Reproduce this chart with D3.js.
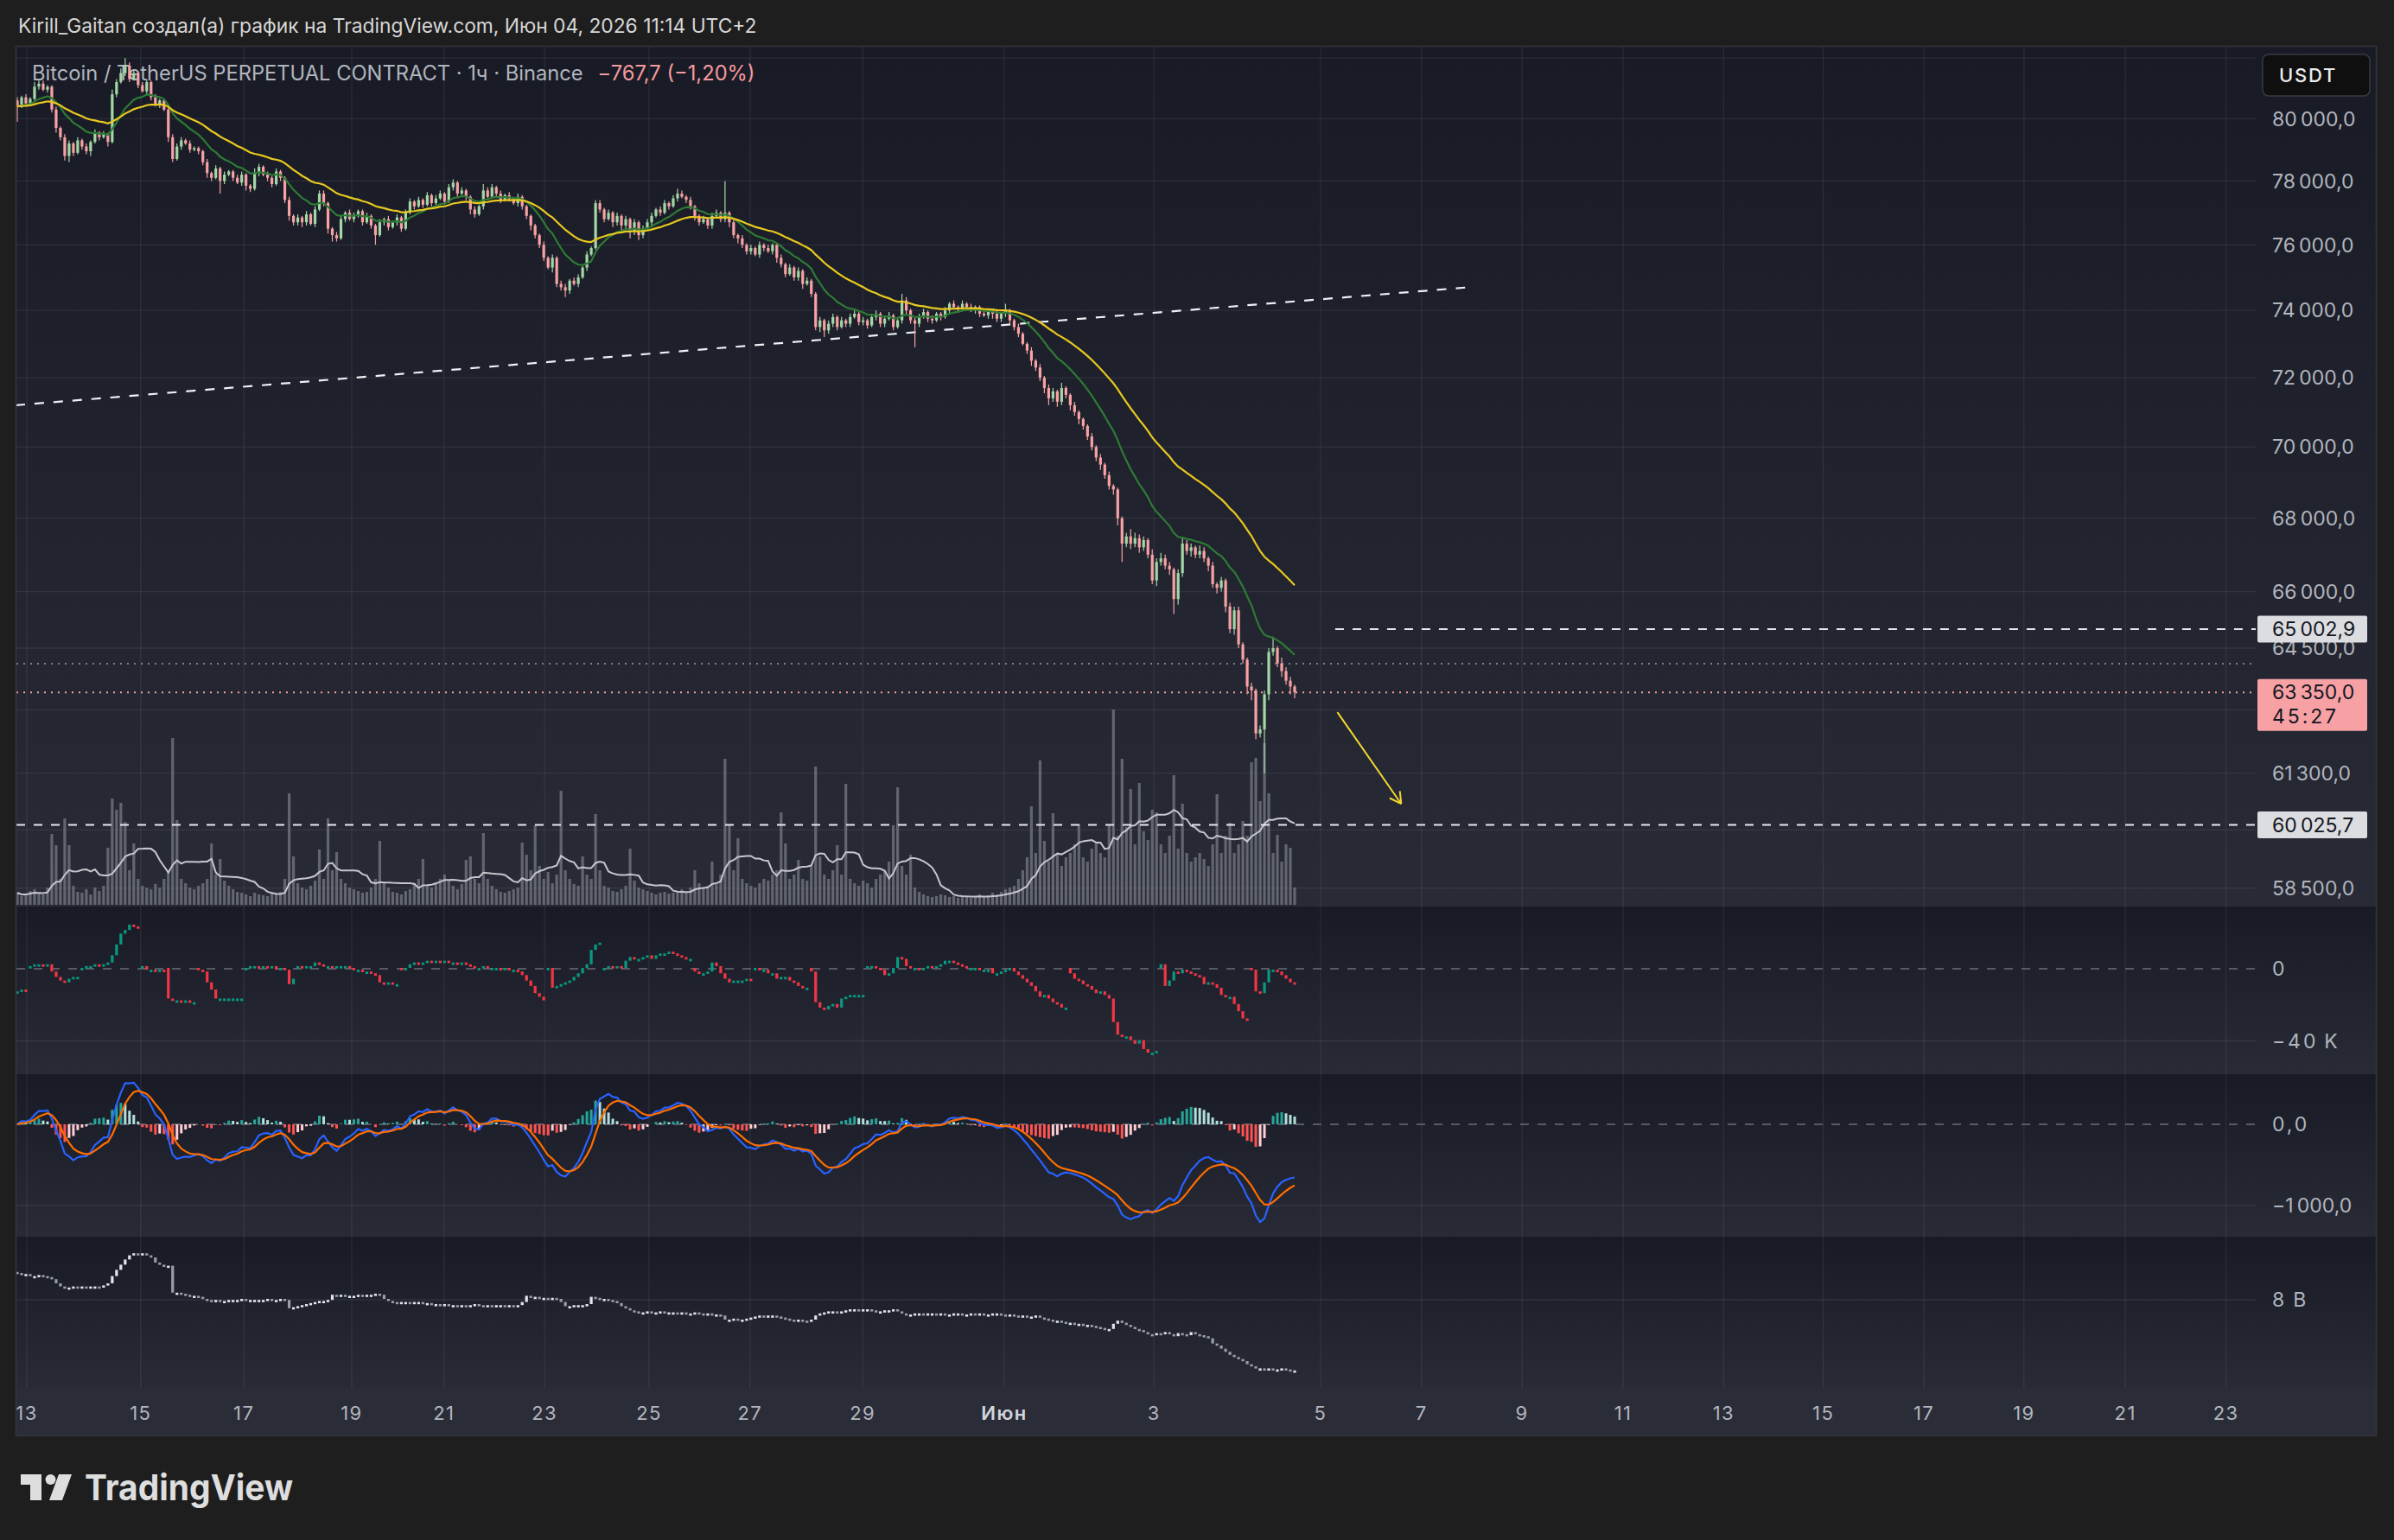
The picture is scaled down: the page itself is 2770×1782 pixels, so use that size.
<!DOCTYPE html>
<html>
<head>
<meta charset="utf-8">
<script src="https://cdn.jsdelivr.net/npm/d3@7"></script>
<style>
  body { margin: 0; background: #1e1e1e; }
  svg { display: block; }
  text { font-family: Inter, "Noto Sans", sans-serif; }
</style>
</head>
<body>
<svg id="chart" width="2770" height="1782"></svg>
<script>
// BTCUSDT.P 1h chart, TradingView dark theme. Prices are samples read off the
// screenshot (one per ~5 px); EMAs, MACD and the volume MA are computed from them,
// with each sample's time taken from the day labels of the time axis.

// ---- data ----
const open0 = 80600;
const close = [
  80400,80700,80500,80650,81050,81150,80950,81050,80300,79700,
  79400,78800,79200,78900,79300,79100,78950,79250,79550,79400,
  79500,79250,80800,81200,81500,81750,81300,81500,81100,80900,
  81200,80700,80450,80600,80300,79400,78700,79100,79300,79200,
  79000,79050,78950,78600,78250,78100,78400,78000,78200,78300,
  78100,77950,78200,77850,77750,78250,78450,78200,78100,77900,
  78300,78100,77400,76900,76700,76850,76700,76950,76650,77100,
  77600,77300,76500,76300,76200,76800,77000,76800,76900,77050,
  76700,76900,76600,76300,76700,76800,76550,76700,76850,76500,
  77000,77350,77200,77400,77250,77550,77300,77450,77600,77350,
  77800,77950,77600,77700,77500,77100,76950,77200,77700,77500,
  77800,77600,77400,77550,77450,77300,77500,77200,76900,76600,
  76300,76000,75600,75300,75600,74800,74700,74600,74900,74800,
  75000,75300,75700,75900,77300,77100,76800,77000,76700,76900,
  76600,76800,76400,76700,76300,76500,76700,76900,77100,77000,
  77300,77200,77450,77600,77500,77400,77200,76900,76700,76800,
  76600,76900,77000,76800,77000,76700,76300,76200,76000,75800,
  75900,75700,76000,75900,75800,76000,75600,75400,75100,75300,
  75000,75200,74800,74900,74500,73500,73700,73400,73600,73800,
  73500,73700,73600,73800,73900,73650,73700,73550,73800,73900,
  73600,73750,73850,73500,73700,74300,74000,73700,73600,73800,
  73950,73750,73700,73900,73800,74000,74200,74100,74050,74200,
  74100,74000,74100,73900,73850,74000,73900,73750,73900,74000,
  73700,73500,73300,73000,72800,72500,72300,72000,71700,71400,
  71600,71300,71700,71500,71200,71000,70800,70600,70300,70000,
  69700,69500,69200,68900,68800,68000,67300,67500,67300,67450,
  67200,67400,67000,66300,66800,66900,66700,66600,65800,66500,
  67300,67100,67200,67000,67100,66900,66700,66200,66100,66300,
  65600,65000,65500,64600,64200,63500,63400,62300,62400,63300,
  64400,64500,64100,63900,63650,63500,63350
];
// upper / lower wick beyond the body, in $50 steps
const wickUp = [
  2,1,2,1,3,2,2,1,1,2, 1,2,2,1,2,1,2,1,2,1, 2,1,3,2,3,5,2,2,1,2, 2,1,2,1,1,1,2,2,2,1,
  2,1,1,1,2,1,2,1,2,1, 1,2,2,1,1,3,2,1,2,1, 2,1,1,2,1,2,1,2,1,2, 2,2,1,1,2,2,1,2,2,1,
  1,2,1,1,2,1,2,1,2,1, 2,2,1,2,1,2,1,2,2,1, 2,2,1,2,1,1,2,1,4,2, 2,1,2,1,2,1,2,1,1,1,
  1,1,2,1,2,1,2,2,1,2, 2,1,2,1,2,2,1,2,1,2, 1,2,1,2,1,2,2,2,1,2, 2,1,2,3,2,1,2,1,1,2,
  1,2,2,1,20,1,2,1,2,1, 2,1,2,1,2,1,1,2,1,2, 1,2,1,2,1,1,2,1,2,2, 1,2,1,2,2,1,2,1,2,2,
  1,2,2,1,2,4,2,1,2,2, 2,1,2,1,1,2,1,2,1,2, 1,2,1,1,2,1,1,2,1,4, 1,1,2,1,1,2,1,2,1,2,
  2,1,3,1,1,2,1,1,1,2, 1,2,1,2,1,1,1,2,4,3, 2,2,1,3,2,3,2,2,1,2, 3,2,2,1,3,2,1,2,1,2,
  1,2,2,2,1,1,2,1,2,2, 2,6,1,3,2,2,1
];
const wickDn = [
  10,1,2,1,1,2,1,2,2,3, 2,3,4,2,1,2,2,3,1,2, 1,3,1,2,1,2,2,1,2,1, 2,2,1,2,1,3,2,1,2,1,
  2,1,2,2,3,2,1,8,2,1, 2,1,2,3,2,1,2,1,2,2, 1,2,2,3,2,2,3,2,1,2, 1,2,3,4,2,1,2,1,2,1,
  2,1,2,6,1,2,2,1,2,2, 1,1,2,1,2,1,2,1,1,2, 1,2,2,1,2,3,2,1,2,1, 1,2,2,1,2,1,2,2,2,3,
  2,2,2,1,3,2,2,4,2,1, 2,1,2,1,1,2,2,1,3,2, 3,2,4,2,3,2,1,2,1,2, 1,2,1,2,1,2,2,3,2,1,
  2,2,1,2,2,3,2,3,2,2, 2,1,2,2,1,2,3,2,2,1, 2,2,3,1,2,2,3,4,2,2, 2,1,2,2,1,2,2,2,1,2,
  2,2,1,2,1,2,2,2,14,2, 1,2,2,1,2,1,2,1,2,1, 2,1,2,2,1,2,3,2,2,2, 2,2,2,1,2,3,2,2,3,4,
  2,3,2,2,3,2,3,2,2,2, 2,3,2,2,3,4,10,2,3,2, 3,2,2,2,3,2,2,3,8,3, 2,2,3,2,2,2,3,2,3,2,
  3,2,3,2,2,4,5,3,2,22, 3,2,2,3,2,4,3
];
const volume = [
  14,10,12,16,18,13,12,20,82,69, 30,100,69,22,15,14,18,12,20,16,
  22,66,123,110,118,96,40,71,30,22, 20,18,24,20,30,40,193,98,30,25,
  20,18,22,25,30,71,35,53,28,22, 18,15,14,12,10,14,12,11,10,13,
  12,15,30,129,56,25,20,18,22,28, 64,30,100,40,61,30,25,20,18,16,
  14,15,20,30,74,25,20,15,14,12, 16,18,25,30,53,22,20,26,30,35,
  28,22,18,24,52,56,30,25,83,30, 22,18,15,14,16,18,20,72,58,40,
  92,45,30,38,25,35,132,40,30,24, 22,56,35,30,105,40,22,20,16,15,
  18,22,65,28,20,18,16,14,12,14, 15,13,14,16,18,15,20,40,25,20,
  22,50,25,35,169,92,40,77,30,25, 22,20,25,30,28,35,40,107,71,30,
  35,52,30,28,45,160,56,35,30,40, 69,35,140,30,25,22,28,25,20,30,
  35,40,50,92,136,45,35,58,20,15, 12,10,9,10,12,11,9,10,8,9,
  10,8,9,12,10,11,14,12,15,18, 20,22,30,40,55,114,60,167,74,50,
  106,60,45,55,60,70,93,55,50,65, 71,60,55,92,226,80,169,90,134,70,
  141,85,75,110,107,70,60,80,150,65, 117,60,50,55,60,53,45,70,128,60,
  80,95,60,70,97,80,165,170,120,187, 129,60,81,50,70,66,20
];
// session-anchored cumulative volume delta, thousands
const cvd = [
  -13,-12,-13,1,2,2,1,2,-2,-5, -7,-8,-6,-5,-5,0,1,1,2,1,
  2,3,7,13,19,21,24,23,22,1, -1,-1,-2,-1,-2,-17,-18,-18,-19,-18,
  -19,-19,-1,-2,-8,-12,-17,-17,-17,-17, -17,-17,-17,0,1,1,0,1,0,1,
  -1,0,-1,-9,-6,1,0,1,1,3, 2,1,1,0,1,1,1,0,-1,-1,
  -2,-2,-3,-4,-8,-9,-8,-9,-9,-1, 0,2,3,2,3,4,3,4,3,4,
  3,3,2,3,2,1,0,0,1,0, 0,0,-1,0,-1,-1,-2,-4,-7,-10,
  -14,-16,-18,0,-11,-10,-9,-8,-7,-5, -3,0,2,10,13,14,0,1,0,1,
  0,4,6,5,5,6,7,5,7,8, 8,9,8,7,6,5,5,-2,-3,-3,
  -2,3,1,-3,-6,-8,-7,-7,-7,-6, -7,0,-1,-1,-3,-3,-6,-5,-5,-7,
  -8,-10,-11,-11,-2,-19,-22,-23,-21,-20, -22,-17,-16,-15,-15,-15,-15,1,1,0,
  -1,-4,-3,0,6,5,1,0,0,-1, 0,1,0,1,2,4,4,3,2,1,
  0,0,0,-1,-1,-1,-3,-3,-2,-1, 0,-2,-4,-6,-8,-10,-13,-16,-15,-17,
  -19,-20,-22,-22,-3,-6,-7,-9,-10,-12, -14,-13,-15,-17,-30,-37,-38,-38,-40,-42,
  -40,-45,-47,-47,-46,2,-10,-7,-2,-3, -1,-2,-3,-4,-5,-9,-8,-9,-11,-15,
  -16,-16,-20,-24,-28,-29,-1,-13,-14,-8, -1,-1,-2,-4,-6,-8,-9
];
const cvdOpen0 = -13;
const cvdResets = [3, 15, 29, 35, 42, 53, 65, 89, 123, 136, 157, 171, 184, 197, 226, 244, 265, 286];
// open interest, billions
const oi = [
  8.25,8.23,8.24,8.22,8.22,8.23,8.22,8.21,8.19,8.15, 8.12,8.10,8.11,8.12,8.11,8.12,8.11,8.12,8.12,8.11,
  8.13,8.15,8.22,8.28,8.33,8.38,8.42,8.44,8.43,8.44, 8.42,8.40,8.35,8.33,8.32,8.32,8.06,8.06,8.05,8.04,
  8.03,8.03,8.02,8.00,7.99,7.98,7.99,7.98,7.98,7.99, 7.99,7.99,8.00,7.99,7.99,7.99,7.99,7.99,8.00,7.99,
  7.99,8.00,7.99,7.91,7.92,7.93,7.94,7.95,7.96,7.97, 7.98,7.98,7.99,8.04,8.03,8.04,8.03,8.03,8.03,8.04,
  8.03,8.04,8.04,8.05,8.04,8.00,7.98,7.97,7.96,7.97, 7.97,7.96,7.97,7.97,7.96,7.96,7.95,7.95,7.94,7.95,
  7.94,7.94,7.93,7.94,7.93,7.94,7.95,7.94,7.93,7.94, 7.93,7.94,7.94,7.93,7.94,7.93,7.94,7.97,8.03,8.02,
  8.02,8.01,8.01,8.00,8.01,8.00,7.97,7.93,7.93,7.94, 7.94,7.94,7.95,8.02,8.01,8.00,8.00,7.99,7.98,7.96,
  7.93,7.91,7.89,7.88,7.87,7.87,7.88,7.87,7.87,7.88, 7.87,7.87,7.87,7.86,7.87,7.86,7.86,7.87,7.86,7.85,
  7.86,7.85,7.85,7.84,7.80,7.80,7.81,7.80,7.80,7.81, 7.82,7.83,7.84,7.83,7.84,7.84,7.83,7.82,7.81,7.80,
  7.79,7.80,7.79,7.78,7.80,7.84,7.86,7.87,7.88,7.88, 7.87,7.88,7.89,7.90,7.90,7.89,7.90,7.90,7.89,7.88,
  7.88,7.89,7.89,7.90,7.88,7.86,7.85,7.85,7.86,7.86, 7.85,7.86,7.86,7.85,7.86,7.85,7.85,7.86,7.86,7.85,
  7.85,7.86,7.85,7.86,7.85,7.85,7.86,7.86,7.85,7.84, 7.85,7.84,7.83,7.84,7.83,7.83,7.84,7.82,7.81,7.80,
  7.79,7.79,7.78,7.77,7.77,7.76,7.76,7.75,7.75,7.74, 7.73,7.72,7.71,7.71,7.76,7.79,7.77,7.75,7.73,7.71,
  7.70,7.68,7.66,7.65,7.67,7.66,7.68,7.66,7.64,7.67, 7.66,7.65,7.68,7.66,7.65,7.64,7.62,7.57,7.55,7.52,
  7.49,7.46,7.44,7.42,7.40,7.37,7.35,7.33,7.33,7.32, 7.33,7.32,7.32,7.33,7.32,7.31,7.31
];
const oiOpen0 = 8.26;

// time axis: sample position of each day label, its day offset from 13 May, its text
const dayTickBars = [2.2, 28.6, 52.5, 77.5, 98.9, 122.2, 146.4, 169.8, 195.9, 228.7, 263.4,
  302.0, 325.4, 348.7, 372.1, 395.4, 418.5, 441.8, 465.0, 488.5, 511.8];
const dayTickDays = [0, 2, 4, 6, 8, 10, 12, 14, 16, 19, 21, 23, 25, 27, 29, 31, 33, 35, 37, 39, 41];
const dayTickLabels = ["13", "15", "17", "19", "21", "23", "25", "27", "29", "Июн", "3",
  "5", "7", "9", "11", "13", "15", "17", "19", "21", "23"];
const priceTicks = [82000, 80000, 78000, 76000, 74000, 72000, 70000, 68000, 66000, 64500, 62900, 61300, 59900, 58500];
const hiddenPriceLabels = [82000, 62900, 59900]; // covered by the currency button / price boxes
const cvdTicks = [0, -40];
const macdTicks = [0, -1000];
const oiTicks = [8];

// drawings on the chart
const trendLine = [{ bar: -0.4, price: 71200 }, { bar: 335.5, price: 74690 }];
const levelLines = [{ price: 65002.9, from: 305.4 }, { price: 60025.7, from: -0.4 }];
const arrowPts = [{ bar: 305.9, price: 62840 }, { bar: 320.7, price: 60540 }];
const prevClose = 64090;
const countdown = "45:27";
const changeText = "\u2212767,7 (\u22121,20%)";

// ---- layout ----
const W = 2770, H = 1782;
const FRAME_L = 18, FRAME_R = 2750;
const PLOT_L = 19, PLOT_R = 2610;
const AXIS_X = 2629;
const PANES = [[53, 1049], [1049, 1243], [1243, 1431], [1431, 1606]];
const AXIS_B = 1662;

const UP = "#a3d7a6", DOWN = "#f8a2a6";
const GRID = "rgba(240,243,250,0.075)";
const LABEL = "#b2b5be";
const BODY_W = 3.2;
const WICK_UNIT = 50;
const AX_FONT = 23, AX_TRACK = 2.9;

const N = close.length;
const x = d3.scaleLinear().domain([0, 296]).range([20, 1498]);
const y = d3.scaleLog().domain([80000, 58500]).range([137.4, 1027.7]);
const yVol = d3.scaleLinear().domain([0, 230]).range([1047, 817]);
const yCvd = d3.scaleLinear().domain([0, -40]).range([1121, 1204.5]);
const yMacd = d3.scaleLinear().domain([0, -1000]).range([1301, 1395]);
const yOi = d3.scaleLinear().domain([8, 7]).range([1504, 1624]);
// hours since 13 May 00:00 at a sample position (piecewise, from the day labels)
const hourAt = d3.scaleLinear().domain(dayTickBars).range(dayTickDays.map((d) => d * 24));
const hours = close.map((_, i) => hourAt(i));

const loc = d3.formatLocale({ decimal: ",", thousands: "\u202F", grouping: [3], currency: ["", ""], minus: "\u2212" });
const fmtPrice = loc.format(",.1f");
const fmtInt = loc.format(",d");

// ---- derived series ----
// hourly EMA of length n, stepped by each sample's duration
function ema(arr, n) {
  const k = 1 - 2 / (n + 1);
  let e = arr[0];
  return arr.map((v, i) => {
    const dt = i ? hours[i] - hours[i - 1] : 1;
    return (e += (1 - Math.pow(k, dt)) * (v - e));
  });
}
// mean over the trailing window of h hours
function smaHours(arr, h) {
  return arr.map((_, i) => d3.mean(arr.filter((v, j) => j <= i && hours[j] > hours[i] - h)));
}
const bars = close.map((c, i) => {
  const o = i ? close[i - 1] : open0;
  return { i, o, c, h: Math.max(o, c) + wickUp[i] * WICK_UNIT, l: Math.min(o, c) - wickDn[i] * WICK_UNIT };
});
const emaFast = ema(close, 24);
const emaSlow = ema(close, 60);
const macdFast = ema(close, 12), macdSlow = ema(close, 26);
const macd = macdFast.map((v, i) => v - macdSlow[i]);
const signal = ema(macd, 9);
const hist = macd.map((v, i) => v - signal[i]);
const volMa = smaHours(volume, 20);
const resetSet = new Set(cvdResets);
const cvdBars = cvd.map((c, i) => ({ i, o: i === 0 ? cvdOpen0 : resetSet.has(i) ? 0 : cvd[i - 1], c }));
const oiBars = oi.map((c, i) => ({ i, o: i ? oi[i - 1] : oiOpen0, c }));

// ---- svg ----
const svg = d3.select("#chart");
const defs = svg.append("defs");
const grad = defs.append("linearGradient").attr("id", "paneBg").attr("x1", 0).attr("y1", 0).attr("x2", 0).attr("y2", 1);
grad.append("stop").attr("offset", "0%").attr("stop-color", "#181b25");
grad.append("stop").attr("offset", "100%").attr("stop-color", "#282b35");
PANES.forEach((p, k) => {
  defs.append("clipPath").attr("id", `clip${k}`)
    .append("rect").attr("x", PLOT_L).attr("y", p[0]).attr("width", PLOT_R - PLOT_L).attr("height", p[1] - p[0]);
});

svg.append("rect").attr("width", W).attr("height", H).attr("fill", "#1e1e1e");
svg.selectAll("rect.pane").data(PANES).join("rect")
  .attr("class", "pane")
  .attr("x", FRAME_L).attr("y", (d) => d[0])
  .attr("width", FRAME_R - FRAME_L).attr("height", (d) => d[1] - d[0])
  .attr("fill", "url(#paneBg)");
svg.append("rect").attr("x", FRAME_L).attr("y", PANES[3][1]).attr("width", FRAME_R - FRAME_L)
  .attr("height", AXIS_B - PANES[3][1]).attr("fill", "#2a2d38");

// ---- grid ----
const gGrid = svg.append("g").attr("stroke", GRID).attr("stroke-width", 1.3);
dayTickBars.forEach((b) => {
  gGrid.append("line").attr("x1", x(b)).attr("x2", x(b)).attr("y1", PANES[0][0]).attr("y2", PANES[3][1]);
});
function hGrid(vals, scale) {
  vals.forEach((v) => {
    gGrid.append("line").attr("x1", PLOT_L).attr("x2", PLOT_R).attr("y1", scale(v)).attr("y2", scale(v));
  });
}
hGrid(priceTicks, y);
hGrid(cvdTicks.filter((v) => v !== 0), yCvd);
hGrid(macdTicks.filter((v) => v !== 0), yMacd);
hGrid(oiTicks, yOi);
[[yCvd, 0], [yMacd, 0]].forEach(([s, v]) => {
  svg.append("line").attr("x1", PLOT_L).attr("x2", PLOT_R).attr("y1", s(v)).attr("y2", s(v))
    .attr("stroke", "#6b6e78").attr("stroke-width", 1.6).attr("stroke-dasharray", "10,10");
});

// ---- legend (under the candles) ----
svg.append("text").attr("x", 21).attr("y", 30).attr("dy", "0.35em")
  .attr("fill", "#d6d6d6").attr("font-size", 22.8)
  .text("Kirill_Gaitan создал(а) график на TradingView.com, Июн 04, 2026 11:14 UTC+2");
const legend = svg.append("text").attr("x", 37).attr("y", 85).attr("dy", "0.35em")
  .attr("font-size", 23.7).attr("fill", LABEL);
legend.append("tspan").text("Bitcoin / TetherUS PERPETUAL CONTRACT \u00B7 1ч \u00B7 Binance");
legend.append("tspan").attr("dx", 17).attr("fill", "#f59a9f").text(changeText);

// ---- main pane ----
const gMain = svg.append("g").attr("clip-path", "url(#clip0)");
gMain.append("g").selectAll("rect").data(volume).join("rect")
  .attr("x", (d, i) => x(i) - BODY_W / 2).attr("width", BODY_W)
  .attr("y", (d) => yVol(d)).attr("height", (d) => yVol(0) - yVol(d))
  .attr("fill", "#7a7d87").attr("opacity", 0.72);
gMain.append("path").datum(volMa)
  .attr("fill", "none").attr("stroke", "#c5c7cd").attr("stroke-width", 2)
  .attr("d", d3.line().x((d, i) => x(i)).y((d) => yVol(d)));

// level / price lines
gMain.append("line").attr("x1", PLOT_L).attr("x2", PLOT_R).attr("y1", y(prevClose)).attr("y2", y(prevClose))
  .attr("stroke", "#7c7f89").attr("stroke-width", 2).attr("stroke-dasharray", "2,6");
gMain.append("line").attr("x1", PLOT_L).attr("x2", PLOT_R).attr("y1", y(close[N - 1])).attr("y2", y(close[N - 1]))
  .attr("stroke", DOWN).attr("stroke-width", 2).attr("stroke-dasharray", "2,6");
gMain.selectAll("line.level").data(levelLines).join("line")
  .attr("class", "level")
  .attr("x1", (d) => Math.max(PLOT_L, x(d.from))).attr("x2", PLOT_R)
  .attr("y1", (d) => y(d.price)).attr("y2", (d) => y(d.price))
  .attr("stroke", "#e6e8ee").attr("stroke-width", 2).attr("stroke-dasharray", "10,10");
gMain.append("line")
  .attr("x1", x(trendLine[0].bar)).attr("y1", y(trendLine[0].price))
  .attr("x2", x(trendLine[1].bar)).attr("y2", y(trendLine[1].price))
  .attr("stroke", "#eef0f4").attr("stroke-width", 2.2).attr("stroke-dasharray", "11,11");

// candles
const gC = gMain.append("g");
gC.selectAll("line").data(bars).join("line")
  .attr("x1", (d) => x(d.i)).attr("x2", (d) => x(d.i))
  .attr("y1", (d) => y(d.h)).attr("y2", (d) => y(d.l))
  .attr("stroke", (d) => (d.c >= d.o ? UP : DOWN)).attr("stroke-width", 1.2);
gC.selectAll("rect").data(bars).join("rect")
  .attr("x", (d) => x(d.i) - BODY_W / 2).attr("width", BODY_W)
  .attr("y", (d) => y(Math.max(d.o, d.c)))
  .attr("height", (d) => Math.max(1.2, y(Math.min(d.o, d.c)) - y(Math.max(d.o, d.c))))
  .attr("fill", (d) => (d.c >= d.o ? UP : DOWN));

const lineOf = (sc) => d3.line().x((d, i) => x(i)).y((d) => sc(d));
gMain.append("path").datum(emaFast).attr("fill", "none").attr("stroke", "#2e7a36").attr("stroke-width", 2.2).attr("d", lineOf(y));
gMain.append("path").datum(emaSlow).attr("fill", "none").attr("stroke", "#e9c81f").attr("stroke-width", 2.2).attr("d", lineOf(y));

// arrow
{
  const x0 = x(arrowPts[0].bar), y0 = y(arrowPts[0].price);
  const x1 = x(arrowPts[1].bar), y1 = y(arrowPts[1].price);
  const ang = Math.atan2(y1 - y0, x1 - x0);
  const gA = svg.append("g").attr("stroke", "#f2d730").attr("stroke-width", 2).attr("fill", "none");
  gA.append("line").attr("x1", x0).attr("y1", y0).attr("x2", x1).attr("y2", y1);
  [-0.5, 0.5].forEach((da) => {
    gA.append("line").attr("x1", x1).attr("y1", y1)
      .attr("x2", x1 - 15 * Math.cos(ang + da)).attr("y2", y1 - 15 * Math.sin(ang + da));
  });
}

// ---- CVD pane ----
const gCvd = svg.append("g").attr("clip-path", "url(#clip1)");
gCvd.selectAll("rect").data(cvdBars).join("rect")
  .attr("x", (d) => x(d.i) - BODY_W / 2).attr("width", BODY_W)
  .attr("y", (d) => yCvd(Math.max(d.o, d.c)) - 1)
  .attr("height", (d) => Math.max(2.8, yCvd(Math.min(d.o, d.c)) - yCvd(Math.max(d.o, d.c))))
  .attr("fill", (d) => (d.c >= d.o ? "#089981" : "#f23645"));

// ---- MACD pane ----
const gMacd = svg.append("g").attr("clip-path", "url(#clip2)");
gMacd.selectAll("rect").data(hist).join("rect")
  .attr("x", (d, i) => x(i) - 1.5).attr("width", 3)
  .attr("y", (d) => yMacd(Math.max(0, d)))
  .attr("height", (d) => Math.abs(yMacd(d) - yMacd(0)))
  .attr("fill", (d, i) => {
    const prev = i ? hist[i - 1] : d;
    if (d >= 0) return d >= prev ? "#26a69a" : "#b2dfdb";
    return d <= prev ? "#ff5252" : "#ffcdd2";
  });
gMacd.append("path").datum(macd).attr("fill", "none").attr("stroke", "#2962ff").attr("stroke-width", 2.2).attr("d", lineOf(yMacd));
gMacd.append("path").datum(signal).attr("fill", "none").attr("stroke", "#ff6d00").attr("stroke-width", 2.2).attr("d", lineOf(yMacd));

// ---- open interest pane ----
const gOi = svg.append("g").attr("clip-path", "url(#clip3)");
gOi.selectAll("rect").data(oiBars).join("rect")
  .attr("x", (d) => x(d.i) - BODY_W / 2).attr("width", BODY_W)
  .attr("y", (d) => yOi(Math.max(d.o, d.c)) - 1)
  .attr("height", (d) => Math.max(2.6, yOi(Math.min(d.o, d.c)) - yOi(Math.max(d.o, d.c))))
  .attr("fill", (d) => (d.c >= d.o ? "#e3e5ec" : "#9a9da6"));

// ---- axes ----
const gAx = svg.append("g").attr("font-size", AX_FONT).attr("fill", LABEL).attr("letter-spacing", AX_TRACK);
priceTicks.filter((p) => !hiddenPriceLabels.includes(p)).forEach((p) => {
  gAx.append("text").attr("x", AXIS_X).attr("y", y(p)).attr("dy", "0.36em").text(fmtPrice(p));
});
cvdTicks.forEach((v) => {
  gAx.append("text").attr("x", AXIS_X).attr("y", yCvd(v)).attr("dy", "0.36em").text(v === 0 ? "0" : fmtInt(v) + "\u202FK");
});
macdTicks.forEach((v) => {
  gAx.append("text").attr("x", AXIS_X).attr("y", yMacd(v)).attr("dy", "0.36em").text(fmtPrice(v));
});
oiTicks.forEach((v) => {
  gAx.append("text").attr("x", AXIS_X).attr("y", yOi(v)).attr("dy", "0.36em").text(fmtInt(v) + "\u202FB");
});
dayTickBars.forEach((b, k) => {
  gAx.append("text").attr("x", x(b)).attr("y", 1635).attr("dy", "0.36em").attr("text-anchor", "middle")
    .attr("font-size", 22).attr("letter-spacing", 1.4)
    .attr("font-weight", dayTickLabels[k] === "Июн" ? 600 : 400)
    .attr("fill", dayTickLabels[k] === "Июн" ? "#d1d4dc" : LABEL)
    .text(dayTickLabels[k]);
});

// price boxes on the scale
function priceBox(price, bg, lines) {
  const yc = y(price);
  const h = lines.length === 1 ? 31 : 60;
  const top = yc - 15.5;
  const gB = svg.append("g");
  gB.append("rect").attr("x", 2612).attr("y", top).attr("width", 127).attr("height", h).attr("rx", 2).attr("fill", bg);
  lines.forEach((t, k) => {
    gB.append("text").attr("x", AXIS_X).attr("y", yc + k * 28).attr("dy", "0.36em")
      .attr("font-size", AX_FONT).attr("letter-spacing", AX_TRACK).attr("fill", "#131722").text(t);
  });
}
levelLines.forEach((l) => priceBox(l.price, "#dcdde0", [fmtPrice(l.price)]));
priceBox(close[N - 1], "#f7a1a5", [fmtPrice(close[N - 1]), countdown]);

// currency button
svg.append("rect").attr("x", 2618).attr("y", 63).attr("width", 124).attr("height", 48).attr("rx", 7)
  .attr("fill", "#0f0f10").attr("stroke", "#3a3b3f").attr("stroke-width", 1.5);
svg.append("text").attr("x", 2637).attr("y", 87).attr("dy", "0.36em").attr("font-size", 22)
  .attr("font-weight", 500).attr("letter-spacing", 1.8).attr("fill", "#ececec").text("USDT");

// frame
svg.append("rect").attr("x", FRAME_L + 0.5).attr("y", PANES[0][0] + 0.5)
  .attr("width", FRAME_R - FRAME_L - 1).attr("height", AXIS_B - PANES[0][0] - 1)
  .attr("fill", "none").attr("stroke", "#34373f").attr("stroke-width", 1.5);

// ---- TradingView mark ----
const gLogo = svg.append("g").attr("fill", "#dedede");
gLogo.append("path").attr("d", "M24,1706H48V1736H35V1718H24Z");
gLogo.append("circle").attr("cx", 58.5).attr("cy", 1712).attr("r", 6);
gLogo.append("path").attr("d", "M68,1706H83L72,1736H57Z");
gLogo.append("text").attr("x", 98).attr("y", 1736).attr("font-size", 41).attr("font-weight", 700)
  .attr("textLength", 241).attr("lengthAdjust", "spacingAndGlyphs").text("TradingView");
</script>
</body>
</html>
